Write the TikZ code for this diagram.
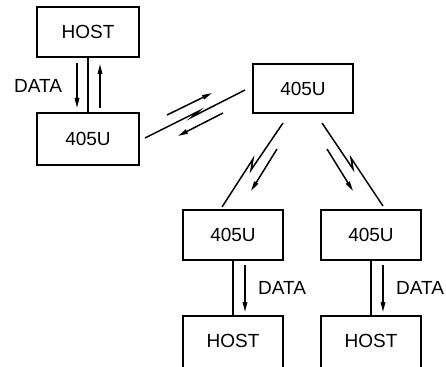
\documentclass[tikz,border=0pt]{standalone}
\usepackage{fontspec}
\setmainfont{Liberation Sans}
\usetikzlibrary{arrows.meta}
\begin{document}
\begin{tikzpicture}[x=1pt,y=-1pt,
  box/.style={draw,line width=1.5pt,minimum width=102pt,minimum height=50pt,inner sep=0pt,font=\fontsize{19}{19}\selectfont},
  wire/.style={line width=1.5pt},
  arr/.style={line width=1.5pt,-{Triangle[length=10pt,width=4.5pt]}},
  bolt/.style={line width=1.5pt,line join=miter},
  lbl/.style={font=\fontsize{19}{19}\selectfont,inner sep=0pt}]
\useasboundingbox (0,0) rectangle (446,366);
\clip (0,0) rectangle (446,366);
% boxes
\node[box] (host1) at (88,32) {HOST};
\node[box,minimum height=52pt] (u1) at (88,139) {405U};
\node[box,minimum width=100pt,minimum height=49pt] (u2) at (303,88.5) {405U};
\node[box,minimum width=100pt] (u3) at (233,235) {405U};
\node[box,minimum width=100pt] (u4) at (371,235) {405U};
\node[box,minimum width=100pt,minimum height=56pt,text depth=6pt] (host3) at (233,344) {HOST};
\node[box,minimum width=100pt,minimum height=56pt,text depth=6pt] (host4) at (371,344) {HOST};
% wired links
\draw[wire] (host1.south) -- (u1.north);
\draw[wire] (u3.south) -- (host3.north);
\draw[wire] (u4.south) -- (host4.north);
% data arrows
\coordinate (d1s) at (77,63); \coordinate (d1e) at (77,108);
\coordinate (d2s) at (100,108); \coordinate (d2e) at (100,64);
\draw[arr] (d1s) -- (d1e);
\draw[arr] (d2s) -- (d2e);
\node[lbl] (t1) at (38,86) {DATA};
\coordinate (d3s) at (245,265); \coordinate (d3e) at (245,312);
\coordinate (d4s) at (383,265); \coordinate (d4e) at (383,312);
\draw[arr] (d3s) -- (d3e);
\draw[arr] (d4s) -- (d4e);
\node[lbl] (t3) at (282,288) {DATA};
\node[lbl] (t4) at (420,288) {DATA};
% radio link u1 - u2
\coordinate (l1a) at (145,138); \coordinate (l1p) at (199,111);
\coordinate (l1q) at (192,117); \coordinate (l1b) at (245,90);
\draw[bolt] (l1a) -- (l1p) -- (l1q) -- (l1b);
\coordinate (r1s) at (167,115); \coordinate (r1e) at (212,93);
\coordinate (r2s) at (223,113); \coordinate (r2e) at (178,136);
\draw[arr] (r1s) -- (r1e);
\draw[arr] (r2s) -- (r2e);
% radio link u2 - u3
\coordinate (l2a) at (222,207); \coordinate (l2p) at (253,159);
\coordinate (l2q) at (251,170); \coordinate (l2b) at (283,123);
\draw[bolt] (l2a) -- (l2p) -- (l2q) -- (l2b);
\coordinate (r3s) at (277,149); \coordinate (r3e) at (251,191);
\draw[arr] (r3s) -- (r3e);
% radio link u2 - u4
\coordinate (l3a) at (322,123); \coordinate (l3p) at (353,169);
\coordinate (l3q) at (351,158); \coordinate (l3b) at (383,206);
\draw[bolt] (l3a) -- (l3p) -- (l3q) -- (l3b);
\coordinate (r4s) at (327,149); \coordinate (r4e) at (353,191);
\draw[arr] (r4s) -- (r4e);
\end{tikzpicture}
\end{document}
